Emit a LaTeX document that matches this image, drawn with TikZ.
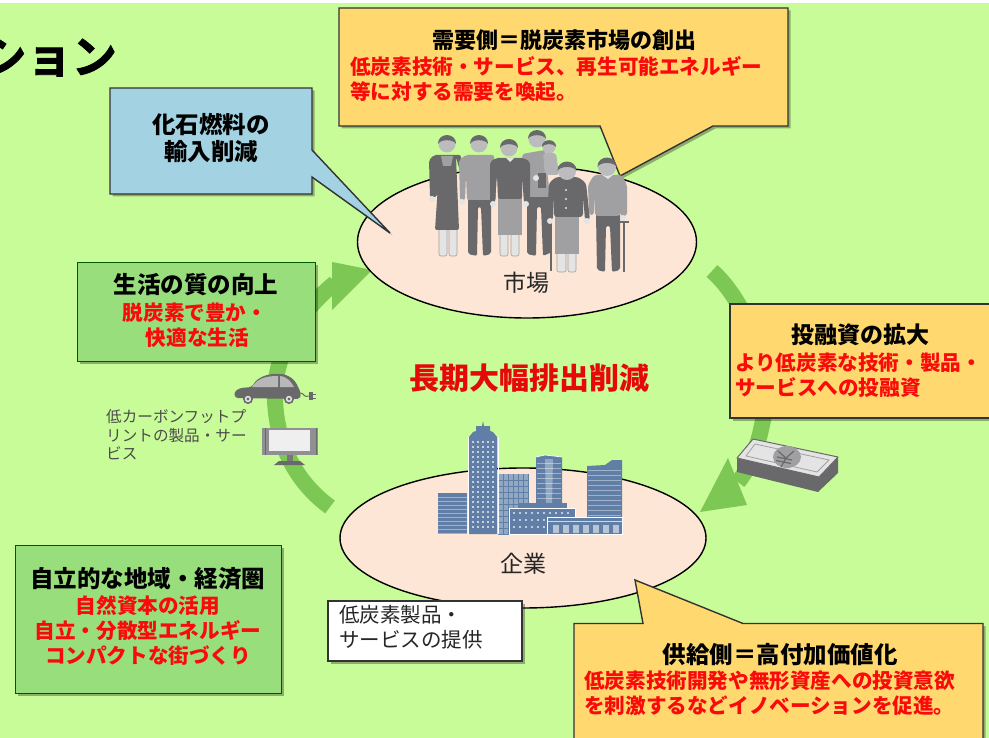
\documentclass[tikz,border=0pt]{standalone}
\usepackage{fontspec}
\setmainfont{Noto Sans CJK JP}
\newfontfamily\titlefont[FakeBold=2]{Noto Sans CJK JP Bold}
\usetikzlibrary{shapes.geometric,shadows}
\definecolor{bgG}{RGB}{200,252,152}
\definecolor{arcG}{RGB}{125,200,85}
\definecolor{boxG}{RGB}{152,222,124}
\definecolor{boxO}{RGB}{255,217,112}
\definecolor{boxB}{RGB}{163,211,227}
\definecolor{ell}{RGB}{253,230,214}
\definecolor{redT}{RGB}{250,10,10}
\definecolor{pD}{RGB}{105,105,108}
\definecolor{pM}{RGB}{160,160,162}
\definecolor{pL}{RGB}{228,228,228}
\definecolor{bld}{RGB}{97,127,166}
\definecolor{bldL}{RGB}{145,168,195}
\newcommand{\phead}[3]{%
  \fill[pM!70] (#1,#2) circle (#3);
  \fill[pD] (#1-#3-.6,#2) .. controls (#1-#3-.6,#2-1.4*#3) and (#1+#3+.6,#2-1.4*#3) .. (#1+#3+.6,#2) .. controls (#1+.75*#3,#2-.6*#3) and (#1-.75*#3,#2-.6*#3) .. cycle;
}
\tikzset{
  softshadow/.style={drop shadow={shadow xshift=2.5pt,shadow yshift=-2.5pt,opacity=.3,fill=black}},
  call/.style={draw=black!80,line width=1.4pt,line join=miter,softshadow},
  gbox/.style={rectangle,draw=green!35!black,line width=1pt,fill=boxG,softshadow,inner sep=0},
  place/.style={ellipse,draw=black,line width=1.4pt,fill=ell,inner sep=0},
  hd/.style={font=\fontsize{#1}{#1}\selectfont\bfseries,text=black,inner sep=0,align=center},
  hd/.default=23,
  rd/.style={font=\fontsize{20.6}{25}\selectfont\bfseries,text=redT,inner sep=0},
  plain/.style={font=\fontsize{#1}{#1}\selectfont,text=black!85,inner sep=0},
  arcline/.style={draw=arcG,line width=16pt,line cap=butt},
  leg/.style={fill=pL,draw=pM,line width=.6pt,rounded corners=2pt},
}
\begin{document}
\begin{tikzpicture}[x=1pt,y=-1pt]
\useasboundingbox (0,0) rectangle (989,738);
\clip (0,0) rectangle (989,738);
\fill[white] (0,0) rectangle (989,738);
\fill[bgG] (0,3) rectangle (989,738);

% title
\node[anchor=east,inner sep=0,font=\fontsize{45}{45}\selectfont\titlefont] (title) at (117,57) {ション};

% ---- cycle arcs
\coordinate (la0) at (330,507);
\coordinate (la1) at (275,400);
\coordinate (la2) at (335,283);
\draw[arcline] (la0) .. controls (300,485) and (277,450) .. (la1) .. controls (273,360) and (295,315) .. (la2);
\fill[arcG] (332,262) -- (332,310) -- (372,270) -- cycle;
\coordinate (ra0) at (712,271);
\coordinate (ra1) at (762,425);
\coordinate (ra2) at (738,482);
\draw[arcline] (ra0) .. controls (745,300) and (775,370) .. (ra1) .. controls (757,450) and (748,470) .. (ra2);
\fill[arcG] (728,458) -- (747,505) -- (700,512) -- cycle;

% ---- ellipses
\node[place,minimum width=339pt,minimum height=152pt] (market) at (527,242) {};
\node[place,minimum width=366pt,minimum height=140pt] (company) at (523,538) {};
\node[plain=23] (marketT) at (526,283) {市場};
\node[plain=23] (companyT) at (523,564) {企業};

% ---- callouts
\draw[call,fill=boxB] (110,88) -- (312,88) -- (312,150) -- (390,233) -- (312,177) -- (312,194) -- (110,194) -- cycle;
\node[hd=23.5] (fossil) at (211,138) {化石燃料の\\[4pt]輸入削減};

\draw[call,fill=boxO] (339,8) -- (788,8) -- (788,126) -- (713,126) -- (620,176) -- (600,126) -- (339,126) -- cycle;
\node[hd=22] (demandH) at (564,40) {需要側＝脱炭素市場の創出};
\node[rd,align=left,anchor=north west] (demandB) at (350,56.5) {低炭素技術・サービス、再生可能エネルギー\\等に対する需要を喚起。};

\node[gbox,minimum width=238pt,minimum height=99pt] (life) at (196,312.5) {};
\node[hd=23.5] (lifeH) at (196,285) {生活の質の向上};
\node[rd,align=center,anchor=north] (lifeB) at (195,302.5) {脱炭素で豊か・\\\ 快適な生活};

\draw[call,fill=boxO] (730,304) rectangle (995,418);
\node[hd=23] (invH) at (860,335) {投融資の拡大};
\node[rd,align=left,anchor=north west] (invB) at (735,352.5) {より低炭素な技術・製品・\\サービスへの投融資};

\node[gbox,minimum width=266pt,minimum height=148pt] (region) at (148,619) {};
\node[hd=23.5] (regionH) at (148,579) {自立的な地域・経済圏};
\node[rd,align=center,anchor=north] (regionB) at (148,595.5) {自然資本の活用\\自立・分散型エネルギー\\コンパクトな街づくり};

\draw[call,fill=white] (328,601) rectangle (522,661);
\node[plain=20.5,align=left,anchor=north west,font=\fontsize{20.5}{25}\selectfont] (prod) at (339,605) {低炭素製品・\\サービスの提供};

\draw[call,fill=boxO] (574,623.5) -- (643,623.5) -- (635,580) -- (743,623.5) -- (983,623.5) -- (983,745) -- (574,745) -- cycle;
\node[hd=23.5] (supplyH) at (780,655) {供給側＝高付加価値化};
\node[rd,align=left,anchor=north west] (supplyB) at (584,671) {低炭素技術開発や無形資産への投資意欲\\を刺激するなどイノベーションを促進。};

\node[inner sep=0,text=redT!92!black,font=\fontsize{30}{30}\selectfont\bfseries] (goal) at (529,378) {長期大幅排出削減};

\node[plain=15.6,align=left,anchor=north west,text=black!70,font=\fontsize{15.6}{18.6}\selectfont] (lcf) at (106,409.5) {低カーボンフットプ\\リントの製品・サー\\ビス};

% ---- people
% person 1
\draw[leg] (439,228) rectangle (447,256) (449,228) rectangle (457,256);
\fill[pD,rounded corners=2pt] (430,197) -- (429,160) -- (434,155) -- (461,155) -- (461,175) -- (456,157) -- (459,230) -- (435,230) -- (439,170) -- (437,197) -- cycle;
\fill[pM] (441,156) -- (453,156) -- (451,166) -- (443,166) -- cycle;
\fill[pL] (432,199) circle (3);
\phead{447}{144}{8.5}
% person 2
\fill[pD,rounded corners=2pt] (468,198) -- (491,198) -- (491,254) -- (483,256) -- (481,207) -- (478,207) -- (477,256) -- (468,254) -- cycle;
\fill[pM,rounded corners=2pt] (459,160) -- (466,155) -- (494,155) -- (496,200) -- (467,200) -- (466,175) -- (465,200) -- (460,200) -- cycle;
\fill[pL] (462,202) circle (3);
\phead{479}{144}{8.5}
% person 4 (behind)
\fill[pD,rounded corners=2pt] (527,197) -- (550,197) -- (552,252) -- (543,256) -- (541,207) -- (537,207) -- (536,256) -- (527,254) -- cycle;
\fill[pM,rounded corners=2pt] (522,154) -- (545,150) -- (550,197) -- (526,197) -- cycle;
\phead{537}{139}{8.5}
% child
\fill[pM!80,rounded corners=3pt] (543,153) -- (556,153) -- (559,175) -- (545,175) -- cycle;
\fill[pD] (538,173) rectangle (546,188);
\fill[pL] (536,178) circle (3);
\phead{549}{147}{6.5}
% person 3
\draw[leg] (500,233) rectangle (508,256) (511,233) rectangle (519,256);
\fill[pM] (498,198) rectangle (522,235);
\fill[pD,rounded corners=2pt] (490,203) -- (490,162) -- (496,158) -- (524,158) -- (530,162) -- (530,203) -- (524,203) -- (522,175) -- (522,199) -- (498,199) -- (497,175) -- (495,203) -- cycle;
\fill[pL] (506,158) -- (514,158) -- (510,162) -- cycle;
\fill[pL] (493,204) circle (3) (526,204) circle (3);
\phead{509}{148}{8.5}
% person 5 grandma
\draw[pD,line width=2pt] (551,222) -- (551,271);
\draw[leg] (557,250) rectangle (566,272) (568,250) rectangle (576,272);
\fill[pM] (555,215) rectangle (579,254);
\fill[pD,rounded corners=3pt] (547,220) -- (549,183) -- (556,177) -- (578,177) -- (586,183) -- (590,220) -- (585,220) -- (583,195) -- (583,217) -- (554,217) -- (554,195) -- (553,220) -- cycle;
\fill[pL] (550,221) circle (3) (587,221) circle (3);
\foreach \yy in {190,199,208}{\fill[pL] (566,\yy) circle (1.1);}
\phead{567}{171}{9}
% person 6 grandpa
\fill[pD,rounded corners=2pt] (596,214) -- (620,214) -- (620,270) -- (612,272) -- (610,226) -- (606,226) -- (605,272) -- (597,270) -- cycle;
\fill[pM,rounded corners=3pt] (588,185) -- (594,175) -- (622,175) -- (627,185) -- (627,216) -- (620,216) -- (620,195) -- (620,216) -- (595,216) -- (595,195) -- (594,215) -- (589,215) -- cycle;
\fill[pL] (601,174) -- (614,174) -- (608,179) -- cycle;
\fill[pL] (623,218) circle (3);
\draw[pD,line width=2pt] (624,221) -- (624,272) (620,222) -- (629,222);
\phead{607}{167}{9}

% ---- buildings
\fill[bld] (438,493) rectangle (467,534);
\foreach \yy in {497,501,...,533}{\draw[white,opacity=.4,line width=.7pt] (438,\yy) -- (467,\yy);}
\fill[bldL] (498,474) rectangle (528,534);
\foreach \xx in {503,508,...,528}{\draw[bld,line width=.6pt] (\xx,474) -- (\xx,534);}
\foreach \yy in {480,486,...,534}{\draw[bld,line width=.6pt] (498,\yy) -- (528,\yy);}
\fill[bld] (483,421) -- (484,426) -- (490,426) -- (490,431) -- (493,432) -- (497,437) -- (497,534) -- (469,534) -- (469,437) -- (473,432) -- (476,431) -- (476,426) -- (482,426) -- cycle;
\foreach \yy in {442,447,...,530}{\foreach \xx in {473,478,483,488,493}{\fill[white,opacity=.65] (\xx-1,\yy-1) rectangle (\xx+1,\yy+1);}}
\draw[white,line width=.8pt] (468,437) -- (468,534) (498,437) -- (498,534);
\fill[bld] (536,457) -- (545,455) -- (562,457) -- (562,505) -- (536,505) -- cycle;
\fill[bldL] (545,459) -- (553,459) -- (552,505) -- (546,505) -- cycle;
\draw[white,line width=.7pt] (536,457) -- (545,455) -- (562,457);
\foreach \yy in {463,468,...,503}{\draw[white,opacity=.4,line width=.7pt] (537,\yy) -- (561,\yy);}
\fill[bld] (587,466) -- (605,465) -- (612,460) -- (622,460) -- (622,520) -- (587,520) -- cycle;
\foreach \yy in {470,475,...,518}{\draw[white,opacity=.4,line width=.8pt] (588,\yy) -- (621,\yy);}
\fill[bld] (518,503) rectangle (567,508);
\fill[bld,draw=white,line width=.7pt] (509,508) rectangle (575,534);
\foreach \yy in {513,520,527}{\foreach \xx in {514,520,...,572}{\fill[white,opacity=.6] (\xx-1.2,\yy-1) rectangle (\xx+1.2,\yy+1);}}
\fill[bld,draw=white,line width=.7pt] (547,517) rectangle (622,534);
\foreach \xx in {553,563,...,615}{\fill[white,opacity=.55] (\xx,525) rectangle (\xx+6,533);}
\draw[white,opacity=.7,line width=.7pt] (548,521) -- (622,521);

% ---- car
\fill[pD,rounded corners=3pt] (235,398) -- (234,392) -- (240,388) -- (252,387) .. controls (258,376) and (270,374) .. (277,374) .. controls (288,374) and (295,380) .. (298,387) -- (301,393) -- (300,399) -- cycle;
\fill[pM!75] (252,387) .. controls (258,378) and (266,376) .. (278,376) -- (278,387) -- cycle;
\fill[pM!75] (280,376) .. controls (288,377) and (291,382) .. (294,387) -- (280,387) -- cycle;
\foreach \xx in {248,289}{\fill[pD] (\xx,399) circle (5); \fill[pL] (\xx,399) circle (3.2); \fill[pD] (\xx,399) circle (1.6);}
\draw[pD,line width=1pt] (300,393) .. controls (305,393) and (303,398) .. (309,396);
\fill[pD] (309,392) rectangle (313,400);
\draw[pD,line width=1pt] (312,394) -- (316,394) (312,398) -- (316,398);

% ---- TV
\fill[pM!90!black] (262,428) rectangle (318,455);
\draw[pD,line width=.6pt] (265,428) -- (265,455) (316,428) -- (316,455);
\fill[pL!60!white] (269,430) rectangle (310,451);
\fill[pD!90] (287,455) rectangle (293,462);
\fill[pD] (274,465) -- (279,461) -- (300,461) -- (305,465) -- cycle;

% ---- money
\fill[pD] (737,458) -- (819,477) -- (838,457) -- (838,473) -- (818,492) -- (737,472) -- cycle;
\draw[pD,line width=1pt,fill=pL,line join=round] (753,439) -- (838,457) -- (819,477) -- (737,458) -- cycle;
\draw[pM,line width=.8pt] (755,444) -- (829,460) -- (817,472) -- (746,456) -- cycle;
\fill[pM] (787,457) ellipse (14 and 11);
\draw[pD,line width=1.2pt] (778,451) -- (786,458) -- (794,451) (786,458) -- (781,467) (777,457) -- (792,460) (776,460.5) -- (791,463.5);
\end{tikzpicture}
\end{document}
